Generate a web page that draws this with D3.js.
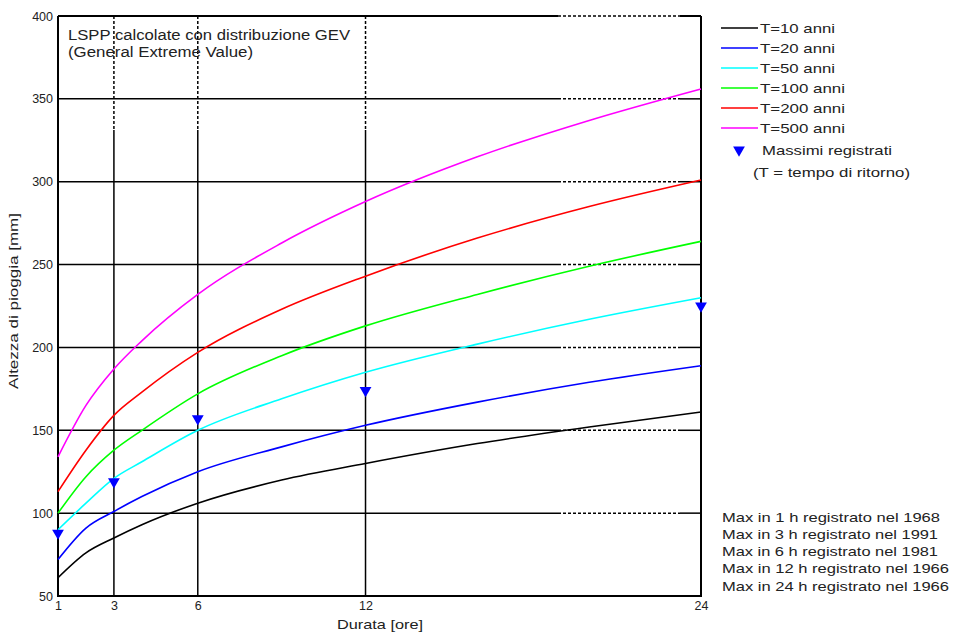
<!DOCTYPE html>
<meta charset="utf-8">
<title>LSPP GEV</title>
<style>
  body { margin: 0; background: #fff; }
  text { font-family: "Liberation Sans", Arial, sans-serif; fill: #222; }
</style>
<div id="my_dataviz"></div>
<script src="https://d3js.org/d3.v7.min.js"></script>
<script>

// durations (hours) at which curves were read
var durations = [1, 2, 3, 4, 6, 9, 12, 16, 20, 24];

// rainfall heights [mm] for each return period
var t10  = [61, 76, 85, 93, 106, 120, 130, 142, 152, 161];
var t20  = [72, 91, 101, 110, 125, 140, 153, 167, 179, 189];
var t50  = [90, 106, 121, 131, 150, 169, 185, 202, 217, 230];
var t100 = [100, 122, 138, 150, 172, 195, 213, 232, 249, 264];
var t200 = [113, 138, 159, 173, 197, 223, 243, 266, 285, 301];
var t500 = [134, 165, 187, 204, 232, 263, 288, 315, 337, 356];

var seriesNames = ["T=10 anni", "T=20 anni", "T=50 anni", "T=100 anni", "T=200 anni", "T=500 anni"];
var seriesColors = ["#000000", "#0000ff", "#00ffff", "#00ff00", "#ff0000", "#ff00ff"];

// recorded maxima
var maxDur = [1, 3, 6, 12, 24];
var maxVal = [88, 119, 157, 174, 225];
var maxNotes = [
  "Max in 1 h registrato nel 1968",
  "Max in 3 h registrato nel 1991",
  "Max in 6 h registrato nel 1981",
  "Max in 12 h registrato nel 1966",
  "Max in 24 h registrato nel 1966"
];

var xTicks = [1, 3, 6, 12, 24];
var yTicks = [50, 100, 150, 200, 250, 300, 350, 400];

var margin = {top: 16, right: 252, bottom: 36, left: 58},
    width = 953 - margin.left - margin.right,
    height = 632 - margin.top - margin.bottom;

var svg = d3.select("#my_dataviz")
  .append("svg")
    .attr("width", 953)
    .attr("height", 632)
  .append("g")
    .attr("transform", "translate(" + margin.left + "," + margin.top + ")");

var x = d3.scaleLinear().domain([1, 24]).range([0, width]);
var y = d3.scaleLinear().domain([50, 400]).range([height, 0]);

// stretch a text to a given width (the original font is wider)
function fit(sel, w) {
  sel.attr("textLength", w).attr("lengthAdjust", "spacingAndGlyphs");
}

// horizontal grid: solid, then a dotted stretch, then solid to the frame
var xBreak1 = 500, xBreak2 = 622;
var hGrid = svg.append("g");
yTicks.slice(1).forEach(function(v) {
  var yy = y(v);
  var sw = v == 400 ? 2 : 1.5;
  hGrid.append("line").attr("x1", 0).attr("x2", xBreak1).attr("y1", yy).attr("y2", yy)
    .attr("stroke", "#000").attr("stroke-width", sw);
  hGrid.append("line").attr("x1", xBreak1).attr("x2", xBreak2).attr("y1", yy).attr("y2", yy)
    .attr("stroke", "#000").attr("stroke-width", 1.5).attr("stroke-dasharray", "3,2");
  hGrid.append("line").attr("x1", xBreak2).attr("x2", width).attr("y1", yy).attr("y2", yy)
    .attr("stroke", "#000").attr("stroke-width", sw);
});

// vertical grid: dotted near the top, solid below
var yBreak = 114;
var vGrid = svg.append("g");
xTicks.slice(1, -1).forEach(function(d) {
  var xx = x(d);
  vGrid.append("line").attr("x1", xx).attr("x2", xx).attr("y1", 0).attr("y2", yBreak)
    .attr("stroke", "#000").attr("stroke-width", 1.5).attr("stroke-dasharray", "3,2");
  vGrid.append("line").attr("x1", xx).attr("x2", xx).attr("y1", yBreak).attr("y2", height)
    .attr("stroke", "#000").attr("stroke-width", 1.5);
});

// frame (left, bottom, right)
svg.append("path")
  .attr("d", "M0,0V" + height + "H" + width + "V0")
  .attr("fill", "none").attr("stroke", "#000").attr("stroke-width", 2);

// axes tick labels
var xAxis = d3.axisBottom(x).tickValues(xTicks).tickSize(0).tickPadding(5);
svg.append("g")
  .attr("transform", "translate(0," + height + ")")
  .call(xAxis)
  .call(function(g) { g.select(".domain").remove(); })
  .selectAll("text").style("font-size", "12.5px").attr("fill", "#222");

var yAxis = d3.axisLeft(y).tickValues(yTicks).tickSize(0).tickPadding(5);
svg.append("g")
  .call(yAxis)
  .call(function(g) { g.select(".domain").remove(); })
  .selectAll("text").style("font-size", "12.5px").attr("fill", "#222");

// axis titles
svg.append("text")
  .attr("x", 322).attr("y", height + 33)
  .attr("text-anchor", "middle").style("font-size", "13px")
  .text("Durata [ore]").call(fit, 86);

svg.append("text")
  .attr("transform", "translate(-40,285) rotate(-90)")
  .attr("text-anchor", "middle").style("font-size", "13px")
  .text("Altezza di pioggia [mm]").call(fit, 176);

// curves
var series = [t10, t20, t50, t100, t200, t500];
var line = d3.line()
  .x(function(d, i) { return x(durations[i]); })
  .y(function(d) { return y(d); })
  .curve(d3.curveMonotoneX);

svg.selectAll(".curve")
  .data(series)
  .enter()
  .append("path")
    .attr("class", "curve")
    .attr("d", line)
    .attr("fill", "none")
    .attr("stroke", function(d, i) { return seriesColors[i]; })
    .attr("stroke-width", 1.6);

// recorded maxima as downward triangles
var tri = d3.symbol().type(d3.symbolTriangle).size(60);
svg.selectAll(".maxpt")
  .data(maxVal)
  .enter()
  .append("path")
    .attr("class", "maxpt")
    .attr("d", tri)
    .attr("transform", function(d, i) { return "translate(" + x(maxDur[i]) + "," + y(d) + ") rotate(180)"; })
    .attr("fill", "#0000ff");

// chart title inside plot
svg.append("text").attr("x", 10).attr("y", 24).style("font-size", "14px")
  .text("LSPP calcolate con distribuzione GEV").call(fit, 282);
svg.append("text").attr("x", 10).attr("y", 41).style("font-size", "14px")
  .text("(General Extreme Value)").call(fit, 185);

// legend
var legendWidths = [75, 75, 75, 85, 85, 85];
var legend = svg.append("g").attr("transform", "translate(" + (width + 20) + ",0)");
seriesNames.forEach(function(name, i) {
  var ly = 12 + i * 20;
  legend.append("line").attr("x1", 0).attr("x2", 37).attr("y1", ly).attr("y2", ly)
    .attr("stroke", seriesColors[i]).attr("stroke-width", 1.6);
  legend.append("text").attr("x", 39).attr("y", ly).attr("dy", "0.35em")
    .style("font-size", "13.5px").text(name).call(fit, legendWidths[i]);
});
legend.append("path").attr("d", tri)
  .attr("transform", "translate(18,134) rotate(180)").attr("fill", "#0000ff");
legend.append("text").attr("x", 41).attr("y", 134).attr("dy", "0.35em")
  .style("font-size", "13.5px").text("Massimi registrati").call(fit, 130);
legend.append("text").attr("x", 32).attr("y", 156).attr("dy", "0.35em")
  .style("font-size", "13.5px").text("(T = tempo di ritorno)").call(fit, 157);

// notes about recorded maxima
var noteWidths = [218, 216, 216, 227, 227];
var notes = svg.append("g").attr("transform", "translate(" + (width + 21) + ",0)");
maxNotes.forEach(function(t, i) {
  notes.append("text").attr("x", 0).attr("y", 501 + i * 17.2).attr("dy", "0.35em")
    .style("font-size", "13.5px").text(t).call(fit, noteWidths[i]);
});

</script>
